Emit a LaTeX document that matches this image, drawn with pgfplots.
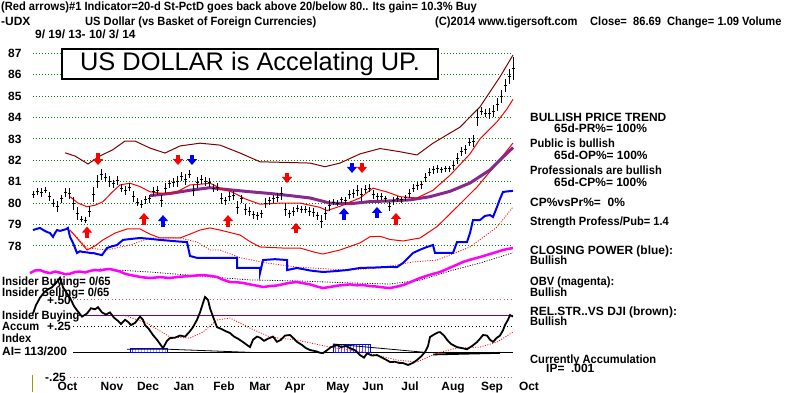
\documentclass[border=0pt]{standalone}
\usepackage{fontspec}
\setmainfont{Liberation Sans}
\newfontfamily\nf{Liberation Sans}[FakeStretch=0.93]
\usepackage{pgfplots}
\usepackage{pgfplotstable}
\pgfplotsset{compat=1.18}
\usetikzlibrary{arrows.meta,patterns}
\definecolor{gridg}{RGB}{0,128,0}
\definecolor{maroonc}{RGB}{128,0,0}
\definecolor{ma65}{RGB}{136,40,140}
\definecolor{cpblue}{RGB}{0,0,255}
\definecolor{obvm}{RGB}{255,0,255}
\definecolor{purl}{RGB}{128,0,128}
\definecolor{pinkd}{RGB}{176,96,96}
\definecolor{olive}{RGB}{153,153,0}
\newcommand\capf{\bfseries\fontsize{12}{14}\selectfont}
\newcommand\lowf{\nf\bfseries\fontsize{12}{14}\selectfont}

% price bars: x (chart position), close, half range
\pgfplotstableread{
x c e
33 80.40 0.15
37 80.55 0.15
41 80.50 0.2
45 80.60 0.15
49 80.30 0.2
53 80.00 0.2
57 79.85 0.25
61 80.20 0.2
65 80.50 0.2
69 80.45 0.25
73 80.00 0.3
77 79.50 0.3
81 79.25 0.15
85 79.20 0.15
89 79.60 0.25
93 80.40 0.35
97 81.00 0.3
101 81.35 0.25
105 81.20 0.2
109 81.00 0.25
113 80.90 0.2
117 81.05 0.2
121 80.70 0.2
125 80.60 0.2
129 80.75 0.2
133 80.30 0.25
137 80.05 0.2
141 79.95 0.2
145 80.15 0.2
149 80.20 0.2
153 80.55 0.2
157 80.60 0.2
161 80.10 0.3
165 80.70 0.25
169 80.90 0.2
173 80.95 0.2
177 81.00 0.25
181 81.25 0.2
185 81.10 0.25
189 81.35 0.2
193 80.60 0.25
197 80.95 0.25
201 81.10 0.2
205 81.00 0.2
209 80.95 0.2
213 80.70 0.2
217 80.75 0.2
221 80.20 0.25
225 80.10 0.2
229 80.30 0.2
233 80.35 0.2
237 79.80 0.3
241 80.20 0.2
245 79.70 0.25
249 79.60 0.2
253 79.45 0.2
257 79.40 0.2
261 79.50 0.2
265 80.00 0.25
269 80.10 0.2
273 80.20 0.2
277 80.25 0.2
281 80.45 0.3
285 79.70 0.3
289 79.50 0.2
293 79.60 0.2
297 79.75 0.15
301 79.70 0.15
305 79.70 0.15
309 79.60 0.2
313 79.55 0.2
317 79.40 0.2
321 79.15 0.3
325 79.50 0.3
329 79.90 0.25
333 80.05 0.15
337 80.00 0.15
341 80.15 0.15
345 80.10 0.2
349 80.40 0.2
353 80.45 0.2
357 80.60 0.25
361 80.40 0.3
365 80.65 0.2
369 80.70 0.2
373 80.40 0.2
377 80.30 0.15
381 80.30 0.15
385 80.20 0.15
389 79.85 0.2
393 80.10 0.2
397 80.20 0.15
401 80.15 0.15
405 80.25 0.15
409 80.45 0.2
413 80.70 0.2
417 80.80 0.2
421 80.85 0.2
425 81.20 0.2
429 81.45 0.2
433 81.55 0.2
437 81.60 0.2
441 81.55 0.15
445 81.60 0.15
449 81.60 0.15
453 81.75 0.2
457 82.10 0.25
461 82.40 0.2
465 82.50 0.2
469 82.85 0.2
473 82.90 0.3
477 84.00 0.4
481 84.30 0.2
485 84.20 0.2
489 84.20 0.25
493 84.30 0.3
497 84.60 0.3
501 85.00 0.3
505 85.50 0.3
509 85.90 0.35
513 86.30 0.55
}\pricetab

\begin{document}
\begin{tikzpicture}[x=1bp,y=1bp]
\useasboundingbox (0,0) rectangle (800,392);
\clip (0,0) rectangle (800,392);
\fill[white] (0,0) rectangle (800,392);

% ---------------- price panel ----------------
\begin{axis}[at={(0,0)}, anchor=south west, scale only axis,
  width=800bp, height=392bp,
  xmin=0, xmax=800, ymin=71.1729, ymax=89.4907,
  axis line style={draw=none}, major tick length=0pt, tick style={draw=none},
  /pgf/number format/assume math mode=true,
  ytick={78,...,87},
  yticklabel style={anchor=east, xshift=25bp, font=\capf},
  xtick={67.5,112,148,184,224,260,295,338,373,410,453,492,529},
  xticklabels={Oct,Nov,Dec,Jan,Feb,Mar,Apr,May,Jun,Jul,Aug,Sep,Oct},
  xticklabel style={anchor=base, yshift=2bp, font=\capf},
]
\pgfplotsinvokeforeach{78,...,87}{
  \draw[gridg, line width=1bp, dash pattern=on 1bp off 2bp] (axis cs:33,#1) -- (axis cs:513,#1);
}
% OBV moving average (black dotted)
\addplot[black, line width=0.8bp, dash pattern=on 1bp off 1.5bp] coordinates {
(100,76.92)(150,76.78)(200,76.59)(250,76.41)(300,76.36)(350,76.27)(390,76.22)(420,76.40)(453,76.87)(480,77.20)(513,77.68)};
% OBV (magenta)
\addplot[obvm, line width=2.5bp] coordinates {
(30,76.73)(35,76.85)(40,76.87)(45,76.78)(50,76.73)(55,76.80)(60,76.75)(65,76.68)(70,76.70)(75,76.78)(80,76.80)(85,76.76)(90,76.83)(95,76.88)(100,76.85)(105,76.90)(110,76.92)(115,76.86)(120,76.80)(125,76.70)(130,76.64)(135,76.60)(140,76.55)(145,76.52)(150,76.50)(160,76.54)(170,76.50)(180,76.56)(190,76.59)(197,76.62)(203,76.64)(210,76.60)(217,76.55)(223,76.42)(230,76.31)(237,76.30)(243,76.27)(250,76.20)(257,76.14)(263,76.08)(270,76.12)(277,76.15)(284,76.22)(290,76.28)(297,76.31)(303,76.26)(310,76.20)(317,76.10)(323,76.03)(330,76.08)(337,76.14)(343,76.17)(350,76.20)(357,76.16)(363,76.17)(370,76.12)(377,76.10)(383,76.06)(390,76.03)(397,76.10)(403,76.17)(410,76.30)(420,76.50)(430,76.65)(440,76.78)(450,76.98)(463,77.25)(472,77.38)(480,77.48)(490,77.62)(497,77.72)(503,77.81)(508,77.86)(513,77.90)};
% Closing power MA (red dotted)
\addplot[red, line width=0.8bp, dash pattern=on 1bp off 1.5bp] coordinates {
(70,78.74)(87,77.90)(107,77.81)(130,78.04)(150,78.37)(180,78.37)(197,78.18)(210,77.81)(220,77.81)(240,77.45)(267,77.20)(297,77.01)(347,76.87)(380,76.97)(413,77.25)(437,77.34)(470,77.95)(497,78.88)(513,79.82)};
% Closing power (blue)
\addplot[cpblue, line width=2bp] coordinates {
(33,78.74)(37,78.80)(40,78.84)(44,78.72)(47,78.65)(50,78.60)(53,78.42)(55,78.60)(57,78.74)(60,78.70)(63,78.74)(66,78.78)(68,78.84)(70,78.42)(73,78.14)(77,77.67)(80,77.75)(83,77.71)(87,77.70)(90,77.67)(94,77.66)(97,77.62)(102,77.57)(107,77.90)(112,77.98)(117,78.04)(123,78.28)(130,78.32)(140,78.37)(150,78.33)(160,78.28)(170,78.24)(180,78.20)(187,78.18)(190,77.53)(197,77.44)(215,77.44)(237,77.44)(237,76.97)(250,76.97)(260,76.97)(260,76.73)(263,77.34)(275,77.38)(287,77.34)(287,76.87)(297,76.97)(310,76.85)(323,76.78)(335,76.82)(347,76.87)(360,76.97)(375,76.99)(390,77.02)(397,77.01)(403,77.20)(413,77.67)(420,77.82)(427,77.95)(433,78.04)(435,77.67)(445,77.67)(453,77.67)(457,78.18)(467,78.18)(470,78.60)(473,79.21)(480,79.21)(485,79.40)(490,79.44)(493,79.35)(497,79.82)(500,80.20)(503,80.52)(508,80.55)(513,80.57)};
% lower band (red)
\addplot[red, line width=1bp] coordinates {
(70,78.74)(80,78.20)(87,77.81)(95,78.00)(103,78.28)(115,78.60)(127,78.79)(140,78.79)(150,78.55)(160,78.37)(180,78.37)(190,78.55)(200,78.74)(210,78.84)(220,78.74)(240,78.51)(250,78.20)(260,77.95)(283,77.90)(300,77.90)(315,77.70)(323,77.62)(340,77.81)(360,78.14)(370,78.43)(380,78.45)(390,78.30)(403,78.23)(420,78.37)(437,78.90)(457,79.82)(477,80.75)(497,81.87)(513,82.81)};
% upper band (maroon)
\addplot[maroonc, line width=1bp] coordinates {
(65,82.35)(75,82.20)(88,81.83)(100,82.20)(113,82.50)(125,82.90)(135,82.90)(150,82.57)(165,82.34)(180,82.67)(200,82.80)(220,82.71)(240,82.34)(260,81.93)(287,81.90)(310,81.87)(325,81.70)(340,81.87)(360,82.30)(380,82.55)(400,82.40)(417,82.25)(433,82.80)(460,83.55)(480,84.50)(500,85.90)(513,86.92)};
% 65-day MA (purple, thick)
\addplot[ma65, line width=3bp] coordinates {
(150,80.35)(170,80.45)(190,80.60)(210,80.72)(230,80.62)(250,80.53)(270,80.45)(290,80.35)(310,80.24)(330,80.00)(350,79.97)(370,80.07)(390,80.10)(410,80.15)(430,80.30)(450,80.55)(470,80.94)(490,81.55)(503,82.15)(513,82.60)};
% short MA (red thin)
\addplot[red, line width=1bp] coordinates {
(70,80.30)(78,80.00)(87,79.83)(95,79.90)(103,80.07)(112,80.50)(120,80.85)(130,80.93)(140,80.77)(150,80.53)(163,80.45)(177,80.53)(190,80.85)(200,80.88)(210,80.93)(220,80.70)(233,80.50)(245,80.20)(260,79.95)(280,80.00)(300,80.00)(320,79.80)(327,79.65)(340,79.85)(350,80.05)(360,80.24)(373,80.70)(387,80.52)(400,80.30)(417,80.24)(433,80.60)(450,81.30)(460,81.80)(470,82.30)(480,83.00)(497,83.80)(507,84.40)(513,84.85)};
% price bars
\addplot[black, line width=1bp, only marks, mark=-, mark size=1.5bp,
  error bars/.cd, y dir=both, y explicit, error mark=none,
  error bar style={line width=1bp}]
  table[x=x, y=c, y error=e] {\pricetab};
% signal arrows
\addplot[red, line width=3.5bp, -{Triangle[width=10bp,length=6bp]}, quiver={u=0, v=\thisrow{v}}]
  table[row sep=\\] {x y v\\ 87 78.37 0.53\\ 144 78.98 0.56\\ 228 78.88 0.56\\ 296 78.60 0.47\\ 396 78.98 0.56\\ 98 82.34 -0.56\\ 178 82.25 -0.47\\ 287 81.41 -0.47\\ 362 81.87 -0.46\\};
\addplot[cpblue, line width=3.5bp, -{Triangle[width=10bp,length=6bp]}, quiver={u=0, v=\thisrow{v}}]
  table[row sep=\\] {x y v\\ 163 78.88 0.56\\ 344 79.21 0.56\\ 377 79.30 0.52\\ 192 82.25 -0.47\\ 352 81.87 -0.46\\};
\end{axis}

% ---------------- accumulation index panel ----------------
\begin{axis}[at={(0,0)}, anchor=south west, scale only axis,
  width=800bp, height=392bp,
  xmin=0, xmax=800, ymin=-0.3776, ymax=3.3552, hide axis]
\draw[pinkd, line width=1bp, dash pattern=on 1bp off 2.5bp] (axis cs:73,0.50) -- (axis cs:513,0.50);
\draw[black, line width=1bp, dash pattern=on 1bp off 2.5bp] (axis cs:73,0.25) -- (axis cs:513,0.25);
\draw[pinkd, line width=1bp, dash pattern=on 1bp off 2.5bp] (axis cs:70,-0.235) -- (axis cs:513,-0.235);
\draw[purl, line width=1bp] (axis cs:77,0.35) -- (axis cs:513,0.35);
\draw[black, line width=1.2bp] (axis cs:73,0) -- (axis cs:513,0);
\draw[olive, line width=1bp] (axis cs:32,-0.22) -- (axis cs:32,-0.38);
% hatched accumulation blocks
\addplot[draw=cpblue, line width=0.6bp, pattern=vertical lines, pattern color=cpblue] coordinates {(130,0)(130,0.035)(167,0.035)(167,0)} -- cycle;
\addplot[draw=cpblue, line width=0.6bp, pattern=vertical lines, pattern color=cpblue] coordinates {(333,0)(333,0.075)(370,0.075)(370,0)} -- cycle;
% trend lines
\addplot[black, line width=0.8bp] coordinates {(127,0.03)(167,0.03)(250,0.0)};
\addplot[black, line width=0.8bp] coordinates {(333,0.08)(425,0.0)};
\addplot[black, line width=1.8bp] coordinates {(433,-0.02)(500,-0.005)};
% AI moving average (red dotted)
\addplot[red, line width=0.8bp, dash pattern=on 1bp off 1.5bp] coordinates {
(123,0.355)(147,0.279)(170,0.146)(190,0.136)(203,0.193)(217,0.308)(230,0.327)(250,0.231)(270,0.146)(297,0.117)(330,0.050)(363,0.003)(397,-0.073)(417,-0.092)(437,-0.007)(457,0.041)(480,0.050)(497,0.098)(513,0.193)};
% accumulation index (black)
\addplot[black, line width=1.8bp] coordinates {
(33,0.37)(36,0.45)(40,0.52)(44,0.57)(48,0.60)(52,0.62)(56,0.66)(60,0.71)(63,0.62)(67,0.56)(70,0.52)(74,0.44)(77,0.40)(82,0.34)(87,0.37)(91,0.42)(95,0.41)(98,0.43)(102,0.38)(106,0.36)(110,0.38)(114,0.33)(118,0.30)(121,0.27)(125,0.31)(128,0.29)(131,0.26)(135,0.28)(140,0.34)(143,0.31)(145,0.26)(149,0.22)(153,0.165)(157,0.12)(160,0.08)(163,0.04)(167,0.11)(170,0.136)(175,0.14)(180,0.16)(185,0.15)(189,0.19)(193,0.24)(197,0.31)(200,0.38)(203,0.47)(205,0.527)(208,0.50)(210,0.42)(213,0.34)(217,0.24)(222,0.22)(226,0.20)(230,0.184)(234,0.15)(238,0.13)(243,0.098)(247,0.07)(250,0.05)(253,0.12)(257,0.15)(260,0.14)(264,0.11)(268,0.13)(273,0.15)(277,0.10)(281,0.12)(285,0.16)(290,0.165)(294,0.13)(297,0.10)(302,0.07)(306,0.04)(310,0.022)(316,0.01)(320,-0.004)(323,-0.007)(327,0.02)(331,0.05)(337,0.07)(341,0.05)(346,0.06)(350,0.04)(355,0.02)(360,-0.026)(364,-0.05)(367,-0.01)(372,-0.03)(377,-0.026)(382,-0.05)(386,-0.07)(390,-0.092)(395,-0.09)(399,-0.10)(403,-0.102)(408,-0.12)(413,-0.10)(417,-0.073)(421,-0.04)(425,0.003)(428,0.06)(430,0.146)(434,0.17)(438,0.19)(440,0.193)(444,0.16)(447,0.12)(451,0.08)(457,0.05)(462,0.04)(467,0.03)(472,0.06)(477,0.098)(480,0.13)(483,0.165)(487,0.16)(490,0.12)(493,0.10)(497,0.14)(500,0.16)(503,0.21)(505,0.26)(508,0.31)(510,0.355)(513,0.34)};
\end{axis}

% ---------------- texts ----------------
\node[draw=black, line width=1.2bp, fill=white, minimum width=376bp, minimum height=30bp, inner sep=0pt,
  font=\fontsize{25.5}{26}\selectfont] at (250,328) {US DOLLAR is Accelating UP.};

\begin{scope}[every node/.style={anchor=base west, inner sep=0pt}]
\node[font=\lowf] at (1,381.5) {(Red arrows)\#1 Indicator=20-d St-PctD goes back above 20/below 80.. Its gain= 10.3\% Buy};
\node[font=\capf] at (1,367) {-UDX};
\node[font=\lowf] at (85,367) {US Dollar (vs Basket of Foreign Currencies)};
\node[font=\lowf] at (435,367) {(C)2014 www.tigersoft.com};
\node[font=\lowf] at (590,367) {Close=\ \ 86.69\ \ Change= 1.09 Volume};
\node[font=\capf] at (35,354) {9/ 19/ 13- 10/ 3/ 14};

\node[font=\capf] at (530,270.5) {BULLISH PRICE TREND};
\node[font=\capf] at (554,260) {65d-PR\%= 100\%};
\node[font=\lowf] at (530,244.7) {Public is bullish};
\node[font=\capf] at (554,232.7) {65d-OP\%= 100\%};
\node[font=\lowf] at (530,217.7) {Professionals are bullish};
\node[font=\capf] at (554,205.3) {65d-CP\%= 100\%};
\node[font=\capf] at (530,185.3) {CP\%vsPr\%=\ \ 0\%};
\node[font=\lowf] at (530,166.3) {Strength Profess/Pub= 1.4};
\node[font=\capf] at (530,138) {CLOSING POWER (blue):};
\node[font=\lowf] at (530,127.7) {Bullish};
\node[font=\lowf] at (530,106.3) {OBV (magenta):};
\node[font=\lowf] at (530,96) {Bullish};
\node[font=\capf] at (530,77) {REL.STR..VS DJI (brown):};
\node[font=\lowf] at (530,67) {Bullish};
\node[font=\lowf] at (530,28.7) {Currently Accumulation};
\node[font=\capf] at (546,19.7) {IP=\ \ .001};

\node[font=\lowf] at (2,107) {Insider Buying= 0/65};
\node[font=\lowf] at (2,95.3) {Insider Selling= 0/65};
\node[font=\capf] at (47,88) {+.50};
\node[font=\lowf] at (2,72.7) {Insider Buying};
\node[font=\lowf] at (2,61.3) {Accum};
\node[font=\capf] at (47,61.3) {+.25};
\node[font=\lowf] at (2,49.3) {Index};
\node[font=\capf] at (2,37) {AI= 113/200};
\node[font=\capf] at (45,10.3) {-.25};
\end{scope}
\end{tikzpicture}
\end{document}
